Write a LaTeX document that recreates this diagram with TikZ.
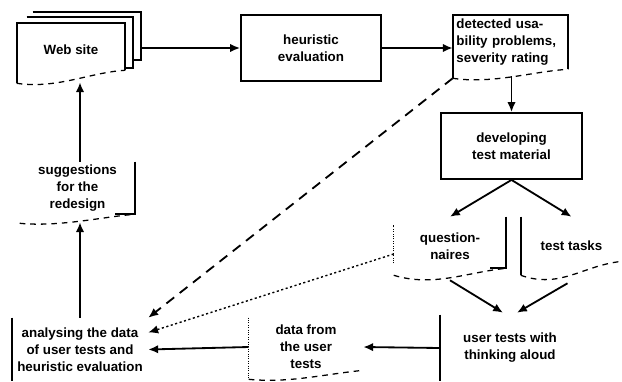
\documentclass[tikz,border=0pt]{standalone}
\usepackage{fontspec}
\setmainfont{Liberation Sans}
\usepackage{tikz}
\usetikzlibrary{arrows.meta}
\usetikzlibrary{calc}
\usetikzlibrary{positioning}

\begin{document}
\begin{tikzpicture}[x=0.025cm, y=-0.025cm, >={Latex[length=7pt,width=6pt]}, font=\bfseries\fontsize{9.5}{12}\selectfont]
	\tikzstyle{block} = [inner sep=0pt, align=center];
	\tikzstyle{rim} = [line width=1.3pt];
	\tikzstyle{wave} = [line width=0.9pt, dash pattern=on 4pt off 3.5pt];
	\tikzstyle{faint} = [line width=0.7pt, densely dotted];
	\tikzstyle{flow} = [->, line width=1.3pt];

	\useasboundingbox (0,0) rectangle (622,381);

	\node [block, minimum width=2.7cm, minimum height=1.325cm] (web)  at (71,49.5)  {Web site};
	\node [block, minimum width=2.65cm, minimum height=1.275cm] (web2) at (80,42.5) {};
	\node [block, minimum width=2.7cm, minimum height=1.2cm]   (web3) at (87,36)    {};
	\node [block, draw, rim, minimum width=3.5cm, minimum height=1.65cm] (heu) at (311,48) {heuristic\\evaluation};
	\node [block, align=left, text width=2.7cm, minimum width=2.875cm, minimum height=1.35cm] (det) at (510.5,42) {detected usa-\\bility problems,\\severity rating};
	\node [block, draw, rim, minimum width=3.525cm, minimum height=1.65cm] (dev) at (511.5,146) {developing\\test material};
	\node [block, minimum width=2.8cm, minimum height=1.45cm]   (que) at (450,246)   {question-\\naires};
	\node [block, minimum width=2.525cm, minimum height=1.45cm] (tt)  at (571.5,246) {test tasks};
	\node [block, minimum width=3.5cm, minimum height=1.65cm]   (ut)  at (510,348)   {user tests with\\thinking aloud};
	\node [block, minimum width=2.85cm, minimum height=1.45cm]  (dat) at (306,347)   {data from\\the user\\tests};
	\node [block, minimum width=3.4cm, minimum height=1.575cm]  (ana) at (80,349.5)  {analysing the data\\of user tests and\\heuristic evaluation};
	\node [block, minimum width=2.875cm, minimum height=1.3cm]  (sug) at (77.5,188)  {suggestions\\for the\\redesign};

	% document outlines
	\draw [rim] (web3.north west) -- (web3.north east) -- (web3.south east) -- (web3.south east -| web2.east);
	\draw [rim] (web2.north west) -- (web2.north east) -- (web2.south east) -- (web2.south east -| web.east);
	\draw [rim] ($(web.south west)+(0,7)$) -- (web.north west) -- (web.north east) -- ($(web.south east)+(0,-6)$);
	\draw [wave] ($(web.south west)+(0,7)$) .. controls +(40,6) and +(-35,2) .. ($(web.south east)+(0,-6)$);
	\draw [rim] ($(det.south west)+(0,9)$) -- (det.north west) -- (det.north east) -- (det.south east);
	\draw [wave] ($(det.south west)+(0,9)$) .. controls +(40,6) and +(-35,2) .. (det.south east);
	\draw [faint] ($(que.south west)+(0,-12)$) -- ($(que.north west)+(0,8)$);
	\draw [rim] (que.north east) -- ($(que.south east)+(0,-7)$) -- +(-16,0);
	\draw [wave] (que.south west) .. controls +(40,12) and +(-40,4) .. ($(que.south east)+(0,-7)$);
	\draw [rim] (tt.north west) -- (tt.south west);
	\draw [wave] (tt.south west) .. controls +(40,14) and +(-40,4) .. ($(tt.south east)+(0,-14)$);
	\draw [rim] (ut.north west) -- (ut.south west);
	\draw [faint] (dat.north west) -- ($(dat.south west)+(0,3)$);
	\draw [wave] ($(dat.south west)+(0,3)$) .. controls +(40,4) and +(-40,4) .. ($(dat.south east)+(0,-6)$);
	\draw [rim] (ana.north west) -- (ana.south west);
	\draw [rim] (sug.north east) -- (sug.south east) -- +(-20,0);
	\draw [wave] ($(sug.south west)+(0,9)$) .. controls +(40,4) and +(-30,2) .. (sug.south east);

	% connectors
	\draw [flow] (heu.west -| web3.east) -- (heu.west);
	\draw [flow] (heu.east) -- (heu.east -| det.west);
	\draw [flow] ($(dev.north |- det.south)+(0,7)$) -- (dev.north);
	\draw [flow] (dev.south) -- (que.north);
	\draw [flow] (dev.south) -- (tt.north);
	\draw [flow] ($(que.south)+(0,5)$) -- ($(ut.north)+(-7,-2)$);
	\draw [flow] ($(tt.south)+(-4,8)$) -- ($(ut.north)+(7,-2)$);
	\draw [flow] (ut.west) -- (dat.east);
	\draw [flow] (dat.west) -- (ana.east);
	\draw [flow] (ana.north) -- ($(ana.north |- sug.south)+(0,8)$);
	\draw [flow] (sug.north -| ana.north) -- ($(web.south -| ana.north)+(0,6)$);
	\draw [flow, dash pattern=on 7pt off 5pt] ($(det.south west)+(0,9)$) -- (ana.north east);
	\draw [flow, line width=1pt, dash pattern=on 1.5pt off 1.8pt] ($(que.west)+(0,8)$) -- ($(ana.east)+(0,-17)$);
\end{tikzpicture}
\end{document}
